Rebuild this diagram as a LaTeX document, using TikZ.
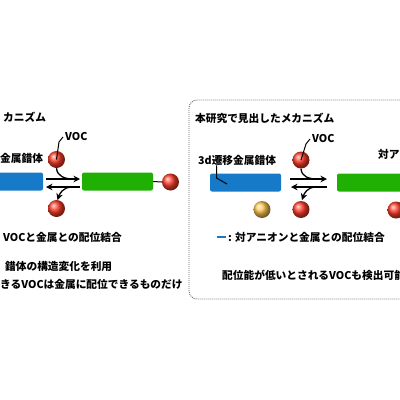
\documentclass[tikz,border=0pt]{standalone}
\usepackage{fontspec}
\usepackage{tikz}
\usetikzlibrary{arrows.meta, positioning, calc}
\newfontfamily\jpfont{Noto Sans CJK JP}
\definecolor{barblue}{RGB}{22,122,200}
\definecolor{bargreen}{RGB}{32,176,4}
\definecolor{ballred}{RGB}{255,60,40}
\definecolor{ballorange}{RGB}{255,200,80}
\definecolor{framegray}{RGB}{110,110,110}
\tikzset{
    txt/.style={font=\jpfont\bfseries\fontsize{10.7}{12}\selectfont, inner sep=0pt, anchor=west},
    bar/.style={rectangle, rounded corners=2pt, minimum height=18pt, inner sep=0pt},
    ball/.style={circle, minimum size=17pt, inner sep=0pt, shade, ball color=#1},
    ball/.default=ballred,
    eqarrow/.style={-{Stealth[length=6.5pt, width=6.5pt]}, line width=1.3pt},
    tag/.style={line width=1pt},
    frame/.style={draw=framegray, line width=0.9pt, dash pattern=on 1pt off 1pt, rounded corners=8pt},
}
\begin{document}
\begin{tikzpicture}[x=1pt, y=-1pt]
    \useasboundingbox (0,0) rectangle (400,400);
    \clip (0,0) rectangle (400,400);

    % known mechanism (left)
    \node[txt] (lhead) at (3,117) {カニズム};
    \node[txt] (lcplx) at (0,158) {金属錯体};
    \node[bar, fill=barblue, minimum width=63pt] (lblue) at (11.5,181.5) {};
    \node[bar, fill=bargreen, minimum width=71pt] (lgreen) at (117.5,181.5) {};
    \node[ball] (lbound) at (170.5,182) {};
    \draw[tag] (lgreen.east) -- (lbound.west);
    \node[ball] (lin) at (56.5,159.5) {};
    \node[ball] (lout) at (56.5,208.5) {};
    \node[txt] (lvoc) at (65,137) {VOC};
    \draw[tag] ([xshift=-2pt]lvoc.west) -- ++(-4,5) -- (lin.center);

    \coordinate (lfwdA) at (46,179);
    \coordinate (lfwdB) at (80,179);
    \coordinate (lbckA) at (80,187);
    \coordinate (lbckB) at (46,187);
    \coordinate (ljoin) at (73,179);
    \coordinate (lsplit) at (72,187);
    \coordinate (ldrop) at (57.5,200);
    \draw[eqarrow] (lfwdA) -- (lfwdB);
    \draw[eqarrow] (lbckA) -- (lbckB);
    \draw[line width=1.3pt] (lin.south) .. controls +(0.5,8) and +(-8,0) .. (ljoin);
    \draw[eqarrow] (lsplit) .. controls +(-9,0) and +(2,-6) .. (ldrop);

    \node[txt] (lnote1) at (3,237) {VOCと金属との配位結合};
    \node[txt] (lnote2) at (5,266) {錯体の構造変化を利用};
    \node[txt] (lnote3) at (0,284) {きるVOCは金属に配位できるものだけ};

    % mechanism found in this work (right)
    \draw[frame] (189,100) rectangle (440,299);
    \node[txt] (rhead) at (195,118) {本研究で見出したメカニズム};
    \node[txt] (rcplx) at (198,160) {3d遷移金属錯体};
    \node[txt] (ranion) at (378,154) {対ア};
    \node[bar, fill=barblue, minimum width=71pt] (rblue) at (245.5,182.5) {};
    \node[bar, fill=bargreen, minimum width=80pt] (rgreen) at (377,182.5) {};
    \node[ball] (rin) at (301,160) {};
    \node[ball=ballorange] (rmetal) at (262,209.5) {};
    \node[ball] (rout) at (301,209.5) {};
    \node[ball] (rbound) at (396,210) {};
    \node[txt] (rvoc) at (312,139) {VOC};
    \draw[tag] ([xshift=-2pt]rvoc.west) -- ++(-4,5) -- (rin.center);
    \coordinate (rbend) at (216.5,178);
    \coordinate (rend) at (227,184);
    \draw[tag] (rbend |- rcplx.south) -- (rbend) -- (rend);

    \coordinate (rfwdA) at (290,179);
    \coordinate (rfwdB) at (327,179);
    \coordinate (rbckA) at (327,187);
    \coordinate (rbckB) at (291,187);
    \coordinate (rjoin) at (317,179);
    \coordinate (rsplit) at (316,187);
    \coordinate (rdrop) at (302,200);
    \draw[eqarrow] (rfwdA) -- (rfwdB);
    \draw[eqarrow] (rbckA) -- (rbckB);
    \draw[line width=1.3pt] (rin.south) .. controls +(0.5,8) and +(-8,0) .. (rjoin);
    \draw[eqarrow] (rsplit) .. controls +(-9,0) and +(2,-6) .. (rdrop);

    \coordinate (keyA) at (217,237);
    \coordinate (keyB) at (226,237);
    \draw[barblue, line width=2.4pt] (keyA) -- (keyB);
    \node[txt] (rkey) at (228,237) {: 対アニオンと金属との配位結合};
    \node[txt] (rnote) at (222,275) {配位能が低いとされるVOCも検出可能};
\end{tikzpicture}
\end{document}
